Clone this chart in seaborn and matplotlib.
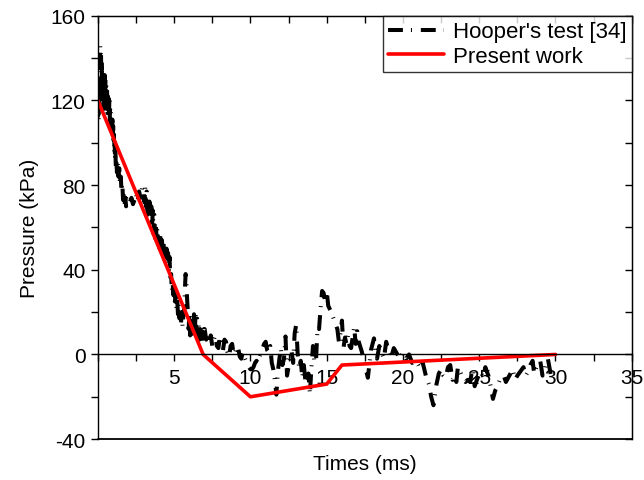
import numpy as np
import pandas as pd
import seaborn as sns
import matplotlib.pyplot as plt
from matplotlib.ticker import MultipleLocator

sns.set_style("ticks")
plt.rcParams["font.family"] = ["Liberation Sans", "DejaVu Sans"]
plt.rcParams["axes.unicode_minus"] = False
plt.rcParams["text.color"] = "black"
plt.rcParams["axes.labelcolor"] = "black"
plt.rcParams["xtick.color"] = "black"
plt.rcParams["ytick.color"] = "black"
plt.rcParams["axes.edgecolor"] = "black"

# Measured pressure history (Hooper's test [34])
test_time = [0.0, 0.025, 0.05, 0.075, 0.1, 0.125, 0.15, 0.175, 0.2, 0.225, 0.25, 0.275,
             0.3, 0.325, 0.35, 0.375, 0.4, 0.425, 0.45, 0.475, 0.5, 0.525, 0.55, 0.575,
             0.6, 0.625, 0.65, 0.675, 0.7, 0.725, 0.75, 0.775, 0.8, 0.825, 0.85, 0.875,
             0.9, 0.925, 0.95, 0.975, 1.0, 1.025, 1.05, 1.075, 1.1, 1.125, 1.15, 1.175,
             1.2, 1.25, 1.3, 1.35, 1.4, 1.45, 1.5, 1.55, 1.6, 1.65, 1.7, 1.75, 1.8, 1.85,
             1.9, 2.0, 2.1, 2.2, 2.3, 2.4, 2.5, 2.6, 2.7, 2.8, 2.9, 3.0,
             3.05, 3.1, 3.15, 3.2, 3.25, 3.3, 3.35, 3.4, 3.45, 3.5, 3.55, 3.6, 3.65, 3.7,
             3.75, 3.8, 3.85, 3.9, 3.95, 4.0, 4.05, 4.1, 4.15, 4.2, 4.25, 4.3, 4.35, 4.4,
             4.45, 4.5, 4.55, 4.6, 4.65, 4.7, 4.75, 4.8, 4.85, 4.9, 4.95, 5.0, 5.05, 5.1,
             5.15, 5.2, 5.25, 5.3, 5.35, 5.4, 5.45, 5.5, 5.55, 5.6, 5.65, 5.7, 5.75, 5.8,
             5.85, 5.9, 5.95, 6.0, 6.05, 6.1, 6.15, 6.2, 6.25, 6.3, 6.35, 6.4, 6.45, 6.5,
             6.55, 6.6, 6.65, 6.7, 6.75, 6.8, 6.85, 6.9, 6.95,
             7.0, 7.1, 7.2, 7.3, 7.4, 7.5, 7.6, 7.7, 7.8, 7.9, 8.0, 8.1, 8.2, 8.3, 8.4,
             8.5, 8.6, 8.7, 8.8, 8.9, 9.0, 9.1, 9.2, 9.3, 9.4, 9.5, 9.6, 9.7, 9.8, 9.9,
             10.0, 10.1, 10.2, 10.3, 10.4, 10.5, 10.6, 10.7, 10.8, 10.9, 11.0, 11.1, 11.2,
             11.3, 11.4, 11.5, 11.6, 11.7, 11.8, 11.9, 12.0, 12.1, 12.2, 12.3, 12.4, 12.5,
             12.6, 12.7, 12.8, 12.9, 13.0, 13.1, 13.2, 13.3, 13.4, 13.5, 13.6, 13.7, 13.8,
             13.9, 14.0, 14.1, 14.2, 14.3, 14.4, 14.5, 14.6, 14.7, 14.8, 14.9, 15.0, 15.1,
             15.3, 15.5, 15.7, 15.8, 15.9, 16.0, 16.1, 16.2, 16.3, 16.4, 16.5, 16.6, 16.8,
             16.9, 17.0, 17.1, 17.3, 17.5, 17.7, 17.9, 18.1, 18.2, 18.3, 18.45, 18.6, 18.75,
             18.9, 19.05, 19.2, 19.4, 19.6, 19.8, 20.0, 20.2, 20.4, 20.6, 20.8, 21.0, 21.1,
             21.3, 21.5, 21.7, 21.85, 22.0, 22.2, 22.35, 22.5, 22.65, 22.8, 22.95, 23.1,
             23.25, 23.4, 23.5, 23.6, 23.8, 23.95, 24.1, 24.25, 24.4, 24.5, 24.6, 24.7,
             24.9, 25.1, 25.25, 25.4, 25.6, 25.75, 25.9, 26.05, 26.2, 26.4, 26.6, 26.75,
             26.9, 27.05, 27.2, 27.35, 27.5, 27.7, 27.9, 28.05, 28.2, 28.35, 28.5, 28.6,
             28.7, 28.85, 29.0, 29.15, 29.3, 29.4, 29.5, 29.6, 29.7]
test_pressure = [112, 125, 110, 130, 118, 140, 146, 136, 144, 132, 138, 124,
                 134, 118, 130, 116, 128, 120, 132, 122, 130, 120, 128, 116,
                 125, 114, 122, 113, 121, 112, 120, 110, 118, 108, 115, 107,
                 113, 106, 111, 102, 108, 99, 104, 95, 100, 92, 97, 88,
                 93, 86, 91, 84, 88, 80, 84, 77, 81, 73, 77, 71, 74, 70,
                 74, 75, 72, 74, 71, 73, 76, 72, 77, 74, 79, 78,
                 72, 79, 70, 77, 66, 74, 64, 72, 62, 70, 60, 68, 57, 66,
                 55, 62, 54, 60, 52, 57, 50, 56, 49, 54, 48, 53, 47, 51,
                 45, 50, 42, 48, 40, 46, 34, 38, 30, 34, 28, 32, 25, 29,
                 22, 26, 19, 24, 17, 22, 15, 20, 13, 18, 20, 30, 38, 34,
                 26, 20, 12, 20, 9, 18, 8, 16, 9, 19, 8, 20, 10, 17,
                 8, 14, 7, 12, 6, 11, 5, 9, 12,
                 12, 7, 10, 5, 9, 4, 7, 9, 4, 3, 8.5, 4, 2, 7, 6,
                 1, -1, 4, 5, 0, 1, 4, 3, -1, -2, 1, -1, -3, -4, -6,
                 -7, -7, -6, -4, -3, -4, -1, 1, 3, 5, 6, 2, 1,
                 4, -4, -7, -12, -19, -8, -2, 3, -5, -2, 8.5, -10, -6,
                 -3, 1.4, -4, 10, 14, 0, -7, -3, -11, -5, -12, -16, -9,
                 -19, -6, 4, -4, -3, 13, 12, 22, 30, 29, 25, 30, 23,
                 20, 16, 12, 6, 10, 16, 3, 8, 5, 9, 4, 3, 13,
                 5, 11, 6, 1.4, -5, -11, 2, 7.6, 2, -2, 4, 1, -2,
                 6, 2, -2, 3, 0.5, -2, 1, -2, 0, -4, -3, -5, -7,
                 -4, -10, -14, -20, -24, -14, -9, -7, -10, -11, -6, -5,
                 -12, -10, -13, -6, -9, -12, -13, -12, -13, -9, -7, -15,
                 -11, -8, -11, -6, -10, -15, -21, -17, -15, -11, -10, -13,
                 -11, -9, -7, -12, -10, -8, -6, -10, -8, -5, -3, -9,
                 -7, -4, -3, -10, -7, -3, -2, -6, -10]

# Simplified pressure history from the present model
model_time = [0.0, 6.9, 10.0, 15.0, 16.0, 30.0]
model_pressure = [120, 0, -20, -14, -5, 0]

test_df = pd.DataFrame({"t": test_time, "p": test_pressure})
model_df = pd.DataFrame({"t": model_time, "p": model_pressure})

fig = plt.figure(figsize=(6.44, 4.81), dpi=100)
ax = fig.add_axes([0.152, 0.085, 0.829, 0.880])

sns.lineplot(data=test_df, x="t", y="p", ax=ax, color="black", linewidth=2.9,
             sort=False, label="Hooper's test [34]")
ax.lines[-1].set_dashes((3.7, 2.0, 0.25, 2.2))
sns.lineplot(data=model_df, x="t", y="p", ax=ax, color="#ff0000", linewidth=2.6,
             sort=False, label="Present work")

ax.set_xlim(0, 35)
ax.set_ylim(-40, 160)

# x axis runs along the zero line; the frame is closed separately
ax.spines["bottom"].set_position(("data", 0))
ax.spines["bottom"].set_linewidth(1.0)
for s in ("left", "right", "top"):
    ax.spines[s].set_visible(True)
    ax.spines[s].set_linewidth(1.0)
ax.plot([0, 1], [0, 0], transform=ax.transAxes, color="black", lw=1.3, clip_on=False)

ax.set_xticks([5, 10, 15, 20, 25, 30, 35])
ax.xaxis.set_minor_locator(MultipleLocator(2.5))
ax.yaxis.set_major_locator(MultipleLocator(40))
ax.yaxis.set_minor_locator(MultipleLocator(20))
ax.tick_params(axis="x", which="both", direction="out", length=5, width=1,
               labelsize=15, pad=5)
ax.tick_params(axis="y", which="both", direction="out", length=5, width=1,
               labelsize=15, pad=4)

top = ax.secondary_xaxis("top")
top.xaxis.set_major_locator(MultipleLocator(5))
top.xaxis.set_minor_locator(MultipleLocator(2.5))
top.tick_params(which="both", direction="in", length=5, width=1, labeltop=False)

right = ax.secondary_yaxis("right")
right.yaxis.set_major_locator(MultipleLocator(40))
right.yaxis.set_minor_locator(MultipleLocator(20))
right.tick_params(which="both", direction="in", length=5, width=1, labelright=False)

ax.set_xlabel("")
ax.set_ylabel("Pressure (kPa)", fontsize=15, labelpad=8)
fig.text(0.567, 0.035, "Times (ms)", ha="center", va="center", fontsize=15)

leg = ax.legend(loc="upper right", fontsize=16, frameon=True, fancybox=False,
                edgecolor="black", borderaxespad=0, handlelength=2.5,
                borderpad=0.25, labelspacing=0.15, handletextpad=0.4)
leg.get_frame().set_linewidth(1.0)

fig.savefig("out.png", dpi=100)
